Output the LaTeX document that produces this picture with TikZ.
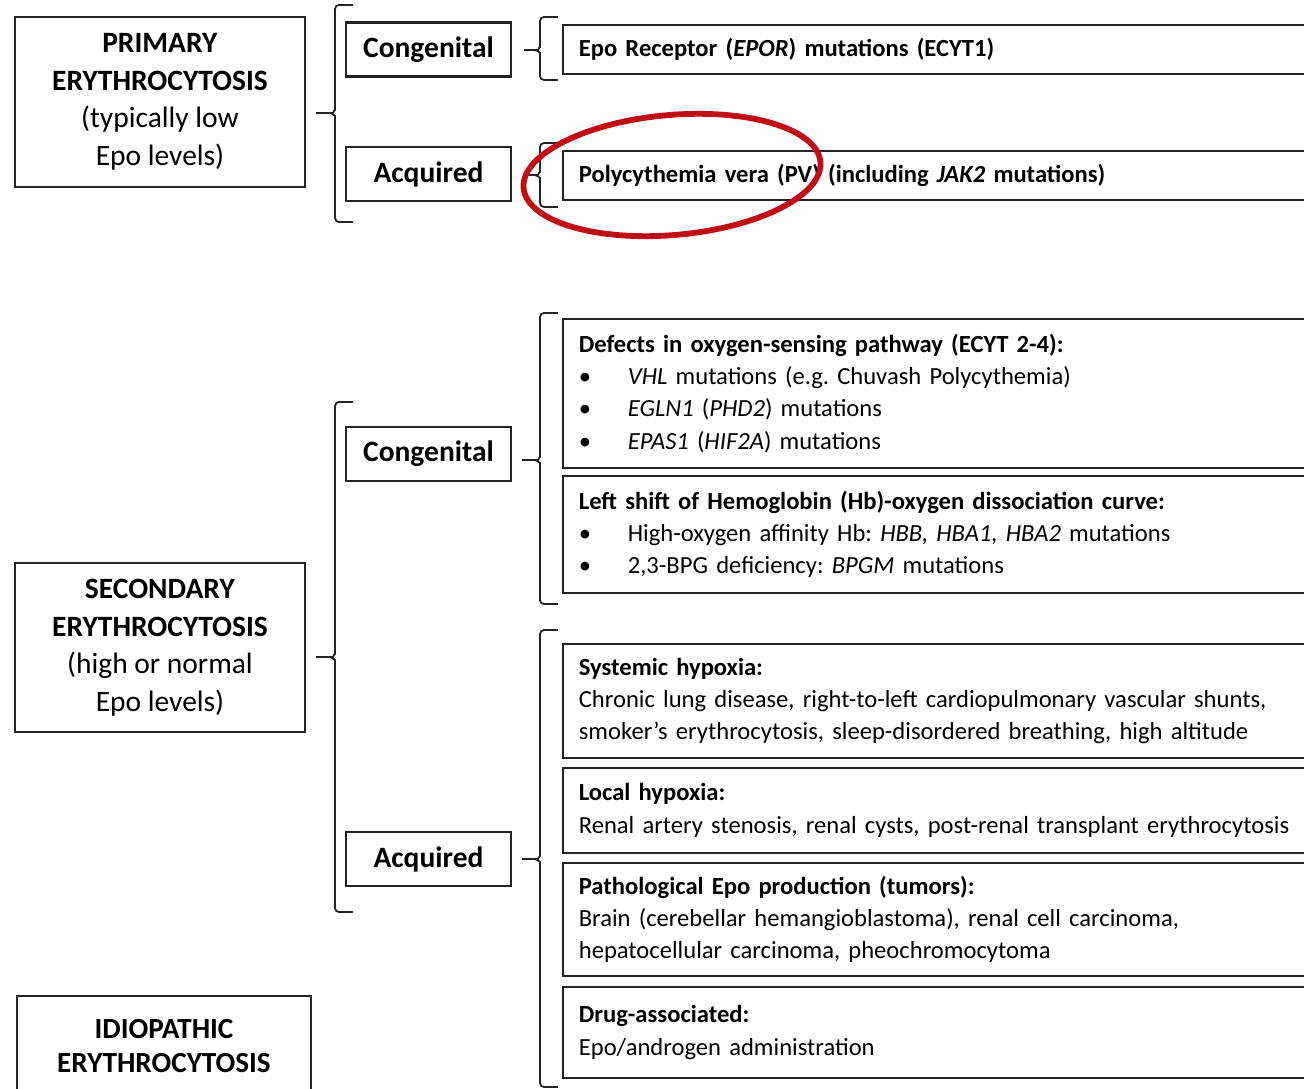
\documentclass[tikz,border=0pt]{standalone}
\usepackage{fontspec}
\setmainfont{Carlito}
\frenchspacing
\usetikzlibrary{shapes.geometric}
\definecolor{hlred}{RGB}{192,14,20}
\definecolor{boxline}{RGB}{35,35,35}
% #1 x of vertical, #2 top, #3 bottom, #4 mid (tip y), #5 tip x
\newcommand\ebrace[5]{%
  \draw[bracelines] (#1+18,#2) -- (#1,#2) -- (#1,#4-7) to[out=-90,in=0] (#1-6,#4) -- (#5,#4);
  \draw[bracelines] (#1-6,#4) to[out=0,in=90] (#1,#4+7) -- (#1,#3) -- (#1+18,#3);}
\begin{document}
\begin{tikzpicture}[x=1pt,y=-1pt,
  bigbox/.style={draw=boxline, line width=2.3pt, align=center, inner sep=0pt,
    minimum width=290pt, font=\fontsize{29.5}{37.5}\selectfont},
  subbox/.style={draw=boxline, line width=2.3pt, minimum width=165pt, minimum height=54pt,
    inner sep=0pt, font=\bfseries\fontsize{29.5}{32}\selectfont},
  itembox/.style={draw=boxline, line width=1.7pt, anchor=north west, text width=736pt,
    inner xsep=16pt, inner ysep=0pt, align=left, font=\fontsize{24.6}{32.3}\selectfont},
  bracelines/.style={line width=1.8pt, draw=boxline, rounded corners=4pt},
]
\clip (0,0) rectangle (1304,1089);
\fill[white] (0,0) rectangle (1304,1089);

% left category boxes
\node[bigbox, minimum height=170pt] (prim) at (160,102)
  {\textbf{PRIMARY}\\\textbf{ERYTHROCYTOSIS}\\(typically low\\Epo levels)};
\node[bigbox, minimum height=169pt] (sec) at (160,647.5)
  {\textbf{SECONDARY}\\\textbf{ERYTHROCYTOSIS}\\(high or normal\\Epo levels)};
\node[bigbox, line width=2.9pt, minimum width=294pt, minimum height=100pt,
  font=\bfseries\fontsize{29.2}{34}\selectfont] (idio) at (164,1046)
  {IDIOPATHIC\\ERYTHROCYTOSIS};

% sub boxes
\node[subbox] (pcong) at (428.5,49.5) {Congenital};
\node[subbox] (pacq) at (428.5,174) {Acquired};
\node[subbox] (scong) at (428.5,454) {Congenital};
\node[subbox] (sacq) at (428.5,859) {Acquired};

% item boxes
\node[itembox, minimum height=49pt, font=\bfseries\fontsize{24.6}{32.3}\selectfont] (epor) at (562,24)
  {Epo Receptor (\textit{EPOR}) mutations (ECYT1)};
\node[itembox, minimum height=49pt, font=\bfseries\fontsize{24.6}{32.3}\selectfont] (pv) at (562,150)
  {Polycythemia vera (PV) (including \textit{JAK2} mutations)};

\node[itembox, minimum height=149pt] (defects) at (562,318)
  {\textbf{Defects in oxygen-sensing pathway (ECYT 2-4):}\\
   \makebox[49pt][l]{•}\textit{VHL} mutations (e.g. Chuvash Polycythemia)\\
   \makebox[49pt][l]{•}\textit{EGLN1} (\textit{PHD2}) mutations\\
   \makebox[49pt][l]{•}\textit{EPAS1} (\textit{HIF2A}) mutations};
\node[itembox, minimum height=117pt] (lshift) at (562,475)
  {\textbf{Left shift of Hemoglobin (Hb)-oxygen dissociation curve:}\\
   \makebox[49pt][l]{•}High-oxygen affinity Hb: \textit{HBB, HBA1, HBA2} mutations\\
   \makebox[49pt][l]{•}2,3-BPG deficiency: \textit{BPGM} mutations};

\node[itembox, minimum height=114pt] (sys) at (562,643)
  {\textbf{Systemic hypoxia:}\\
   Chronic lung disease, right-to-left cardiopulmonary vascular shunts,\\
   smoker’s erythrocytosis, sleep-disordered breathing, high altitude};
\node[itembox, minimum height=85pt] (loc) at (562,767)
  {\textbf{Local hypoxia:}\\
   Renal artery stenosis, renal cysts, post-renal transplant erythrocytosis};
\node[itembox, minimum height=113pt] (patho) at (562,862)
  {\textbf{Pathological Epo production (tumors):}\\
   Brain (cerebellar hemangioblastoma), renal cell carcinoma,\\
   hepatocellular carcinoma, pheochromocytoma};
\node[itembox, minimum height=91pt] (drug) at (562,986)
  {\textbf{Drug-associated:}\\
   Epo/androgen administration};

% braces
\ebrace{335}{5}{222}{113}{316}
\ebrace{540}{17}{80}{50}{524}
\ebrace{540}{143}{207}{175}{524}
\ebrace{335}{402}{912}{657}{316}
\ebrace{540}{313}{604}{460}{522}
\ebrace{540}{630}{1087}{859}{522}

% highlight
\node[ellipse, draw=hlred, line width=5.8pt, minimum width=298pt, minimum height=120pt,
  inner sep=0pt, rotate=5] (hl) at (672,175) {};
\end{tikzpicture}
\end{document}
